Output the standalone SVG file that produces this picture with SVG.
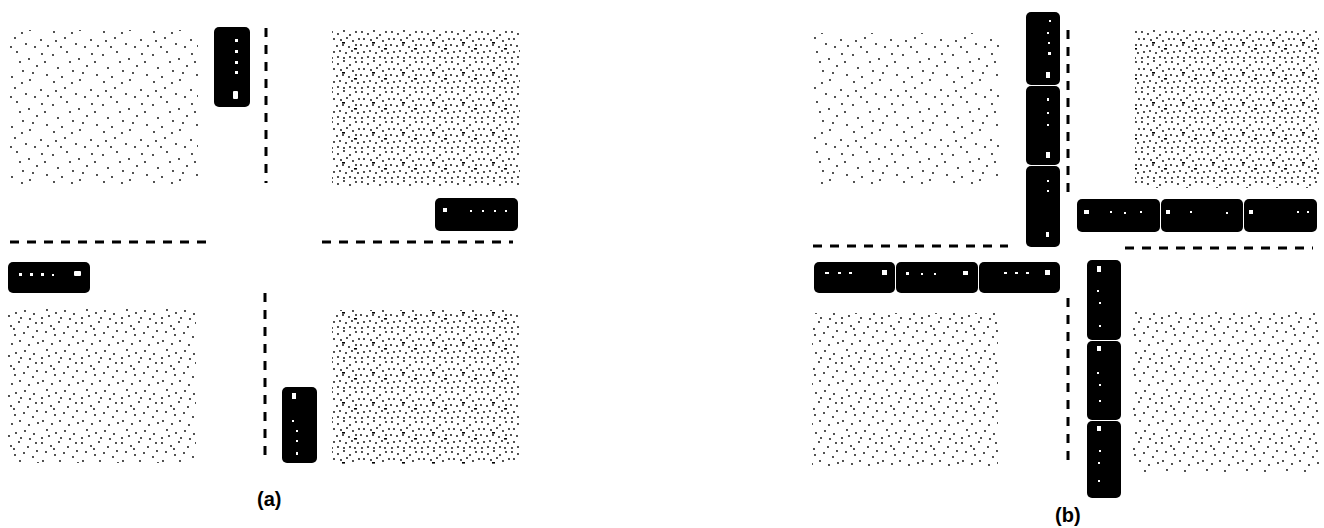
<svg xmlns="http://www.w3.org/2000/svg" width="1324" height="528" viewBox="0 0 1324 528">
<style>
.lane{stroke:#000;stroke-width:3;stroke-dasharray:9 8;fill:none}
.car{fill:#000}
.mk{fill:#fff}
.lbl{font-family:"Liberation Sans",Arial,sans-serif;font-weight:bold;font-size:20px;fill:#000}
</style>
<defs>
<pattern id="sparse" width="50" height="50" patternUnits="userSpaceOnUse">
<g fill="#000">
<circle cx="3" cy="5" r="0.9"/><circle cx="17" cy="2" r="0.9"/><circle cx="29" cy="9" r="0.9"/><circle cx="42" cy="4" r="0.9"/>
<circle cx="8" cy="18" r="0.9"/><circle cx="23" cy="21" r="0.9"/><circle cx="37" cy="16" r="0.9"/><circle cx="47" cy="25" r="0.9"/>
<circle cx="4" cy="32" r="0.9"/><circle cx="15" cy="38" r="0.9"/><circle cx="30" cy="30" r="0.9"/><circle cx="41" cy="40" r="0.9"/>
<circle cx="11" cy="47" r="0.9"/><circle cx="26" cy="44" r="0.9"/><circle cx="35" cy="47" r="0.9"/><circle cx="20" cy="12" r="0.9"/>
<circle cx="45" cy="12" r="0.9"/><circle cx="33" cy="23" r="0.9"/><circle cx="12" cy="27" r="0.9"/><circle cx="22" cy="33" r="0.9"/>
<circle cx="48" cy="46" r="0.9"/><circle cx="6" cy="41" r="0.9"/>
</g>
</pattern>
<pattern id="medium" width="40" height="40" patternUnits="userSpaceOnUse">
<g fill="#000">
<circle cx="2" cy="3" r="0.9"/><circle cx="11" cy="6" r="0.9"/><circle cx="19" cy="2" r="0.9"/><circle cx="28" cy="7" r="0.9"/><circle cx="36" cy="3" r="0.9"/>
<circle cx="6" cy="12" r="0.9"/><circle cx="15" cy="15" r="0.9"/><circle cx="24" cy="13" r="0.9"/><circle cx="33" cy="17" r="0.9"/>
<circle cx="3" cy="21" r="0.9"/><circle cx="12" cy="24" r="0.9"/><circle cx="20" cy="21" r="0.9"/><circle cx="29" cy="25" r="0.9"/><circle cx="38" cy="23" r="0.9"/>
<circle cx="7" cy="30" r="0.9"/><circle cx="16" cy="33" r="0.9"/><circle cx="25" cy="31" r="0.9"/><circle cx="34" cy="34" r="0.9"/>
<circle cx="2" cy="38" r="0.9"/><circle cx="21" cy="38" r="0.9"/><circle cx="30" cy="39" r="0.9"/><circle cx="9" cy="36" r="0.9"/>
<circle cx="14" cy="9" r="0.9"/><circle cx="37" cy="11" r="0.9"/>
</g>
</pattern>
<pattern id="dense" width="30" height="30" patternUnits="userSpaceOnUse">
<g fill="#000">
<circle cx="2" cy="2" r="0.9"/><circle cx="8" cy="4" r="0.9"/><circle cx="14" cy="1" r="0.9"/><circle cx="20" cy="5" r="0.9"/><circle cx="26" cy="2" r="0.9"/>
<circle cx="4" cy="9" r="0.9"/><circle cx="11" cy="10" r="0.9"/><circle cx="17" cy="8" r="0.9"/><circle cx="23" cy="11" r="0.9"/><circle cx="29" cy="9" r="0.9"/>
<circle cx="1" cy="15" r="0.9"/><circle cx="7" cy="16" r="0.9"/><circle cx="13" cy="15" r="0.9"/><circle cx="19" cy="17" r="0.9"/><circle cx="26" cy="15" r="0.9"/>
<circle cx="4" cy="22" r="0.9"/><circle cx="10" cy="21" r="0.9"/><circle cx="16" cy="23" r="0.9"/><circle cx="22" cy="21" r="0.9"/><circle cx="28" cy="23" r="0.9"/>
<circle cx="2" cy="28" r="0.9"/><circle cx="8" cy="27" r="0.9"/><circle cx="14" cy="28" r="0.9"/><circle cx="20" cy="27" r="0.9"/><circle cx="25" cy="28" r="0.9"/>
<rect x="12" y="12" width="3" height="1.6"/><rect x="24" y="18" width="3" height="1.6"/>
</g>
</pattern>
</defs>

<!-- Panel (a) blocks -->
<g id="a-blocks">
<rect x="10" y="30" width="188" height="155" fill="url(#sparse)"/>
<rect x="332" y="30" width="188" height="157" fill="url(#dense)"/>
<rect x="8" y="307" width="188" height="156" fill="url(#medium)"/>
<rect x="332" y="310" width="187" height="154" fill="url(#dense)"/>
</g>
<!-- Panel (b) blocks -->
<g id="b-blocks">
<rect x="813" y="33" width="187" height="154" fill="url(#sparse)"/>
<rect x="1135" y="30" width="184" height="158" fill="url(#dense)"/>
<rect x="812" y="313" width="186" height="155" fill="url(#medium)"/>
<rect x="1133" y="312" width="187" height="160" fill="url(#medium)"/>
</g>

<!-- lane markings -->
<g id="connectors">
<line class="lane" x1="266" y1="28" x2="266" y2="183"/>
<line class="lane" x1="10" y1="242" x2="206" y2="242"/>
<line class="lane" x1="322" y1="242" x2="513" y2="242"/>
<line class="lane" x1="265" y1="293" x2="265" y2="463"/>
<line class="lane" x1="1068" y1="30" x2="1068" y2="194"/>
<line class="lane" x1="813" y1="246" x2="1008" y2="246"/>
<line class="lane" x1="1125" y1="248" x2="1313" y2="248"/>
<line class="lane" x1="1068" y1="298" x2="1068" y2="468"/>
</g>

<!-- vehicles (a) -->
<g id="a-car-top">
<rect class="car" x="214" y="27" width="36" height="80" rx="5"/>
<rect class="mk" x="235" y="39" width="3" height="3"/><rect class="mk" x="235" y="50" width="3" height="3"/>
<rect class="mk" x="235" y="61" width="3" height="3"/><rect class="mk" x="235" y="71" width="3" height="3"/>
<rect class="mk" x="233" y="91" width="5" height="8" rx="1"/>
</g>
<g id="a-car-right">
<rect class="car" x="435" y="198" width="83" height="33" rx="5"/>
<rect class="mk" x="443" y="208" width="4" height="4"/><rect class="mk" x="470" y="210" width="2" height="2"/>
<rect class="mk" x="482" y="210" width="2" height="2"/><rect class="mk" x="494" y="210" width="2" height="2"/>
<rect class="mk" x="505" y="210" width="2" height="2"/>
</g>
<g id="a-car-left">
<rect class="car" x="8" y="262" width="82" height="31" rx="5"/>
<rect class="mk" x="19" y="273" width="3" height="3"/><rect class="mk" x="30" y="273" width="3" height="3"/>
<rect class="mk" x="41" y="273" width="3" height="3"/><rect class="mk" x="52" y="274" width="2" height="2"/>
<rect class="mk" x="74" y="271" width="7" height="5" rx="1"/>
</g>
<g id="a-car-bottom">
<rect class="car" x="282" y="387" width="35" height="76" rx="5"/>
<rect class="mk" x="292" y="393" width="4" height="6"/><rect class="mk" x="292" y="420" width="2" height="2"/>
<rect class="mk" x="296" y="430" width="2" height="2"/><rect class="mk" x="296" y="440" width="2" height="2"/>
<rect class="mk" x="296" y="452" width="2" height="3"/>
</g>

<!-- vehicles (b) -->
<g id="b-car-n1"><rect class="car" x="1026" y="12" width="34" height="73" rx="5"/>
<rect class="mk" x="1049" y="20" width="2" height="2"/><rect class="mk" x="1047" y="32" width="2" height="2"/><rect class="mk" x="1048" y="42" width="2" height="2"/><rect class="mk" x="1048" y="52" width="3" height="3"/><rect class="mk" x="1046" y="72" width="4" height="6"/></g>
<g id="b-car-n2"><rect class="car" x="1026" y="86" width="34" height="79" rx="5"/>
<rect class="mk" x="1047" y="98" width="2" height="3"/><rect class="mk" x="1047" y="112" width="2" height="2"/><rect class="mk" x="1047" y="124" width="2" height="2"/><rect class="mk" x="1046" y="152" width="4" height="6"/></g>
<g id="b-car-n3"><rect class="car" x="1026" y="166" width="34" height="81" rx="5"/>
<rect class="mk" x="1047" y="180" width="2" height="2"/><rect class="mk" x="1047" y="190" width="2" height="2"/><rect class="mk" x="1046" y="232" width="3" height="5"/></g>

<g id="b-car-e1"><rect class="car" x="1077" y="199" width="83" height="33" rx="5"/>
<rect class="mk" x="1084" y="210" width="5" height="4"/><rect class="mk" x="1110" y="211" width="2" height="2"/><rect class="mk" x="1124" y="212" width="2" height="2"/><rect class="mk" x="1140" y="211" width="2" height="2"/></g>
<g id="b-car-e2"><rect class="car" x="1161" y="199" width="82" height="33" rx="5"/>
<rect class="mk" x="1166" y="210" width="4" height="4"/><rect class="mk" x="1190" y="211" width="2" height="2"/><rect class="mk" x="1226" y="212" width="2" height="2"/></g>
<g id="b-car-e3"><rect class="car" x="1244" y="199" width="73" height="33" rx="5"/>
<rect class="mk" x="1249" y="210" width="4" height="4"/><rect class="mk" x="1297" y="211" width="2" height="2"/><rect class="mk" x="1307" y="211" width="2" height="2"/></g>

<g id="b-car-w1"><rect class="car" x="814" y="262" width="81" height="31" rx="5"/>
<rect class="mk" x="825" y="272" width="4" height="2"/><rect class="mk" x="838" y="272" width="3" height="2"/><rect class="mk" x="849" y="272" width="3" height="2"/><rect class="mk" x="882" y="270" width="5" height="5"/></g>
<g id="b-car-w2"><rect class="car" x="896" y="262" width="82" height="31" rx="5"/>
<rect class="mk" x="906" y="272" width="3" height="3"/><rect class="mk" x="921" y="273" width="2" height="2"/><rect class="mk" x="934" y="273" width="2" height="2"/><rect class="mk" x="963" y="271" width="5" height="4"/></g>
<g id="b-car-w3"><rect class="car" x="979" y="262" width="81" height="31" rx="5"/>
<rect class="mk" x="1004" y="272" width="3" height="2"/><rect class="mk" x="1015" y="272" width="3" height="2"/><rect class="mk" x="1026" y="272" width="3" height="2"/><rect class="mk" x="1045" y="270" width="5" height="5"/></g>

<g id="b-car-s1"><rect class="car" x="1087" y="260" width="34" height="80" rx="5"/>
<rect class="mk" x="1097" y="266" width="4" height="6"/><rect class="mk" x="1097" y="290" width="2" height="2"/><rect class="mk" x="1099" y="302" width="2" height="2"/><rect class="mk" x="1099" y="325" width="2" height="2"/></g>
<g id="b-car-s2"><rect class="car" x="1087" y="341" width="34" height="79" rx="5"/>
<rect class="mk" x="1097" y="346" width="4" height="5"/><rect class="mk" x="1097" y="372" width="2" height="2"/><rect class="mk" x="1099" y="384" width="2" height="2"/><rect class="mk" x="1099" y="400" width="2" height="2"/></g>
<g id="b-car-s3"><rect class="car" x="1087" y="421" width="34" height="77" rx="5"/>
<rect class="mk" x="1097" y="426" width="4" height="5"/><rect class="mk" x="1099" y="450" width="2" height="2"/><rect class="mk" x="1098" y="462" width="2" height="2"/><rect class="mk" x="1098" y="480" width="2" height="2"/></g>

<text class="lbl" x="257" y="506">(a)</text>
<text class="lbl" x="1055" y="522">(b)</text>
</svg>
